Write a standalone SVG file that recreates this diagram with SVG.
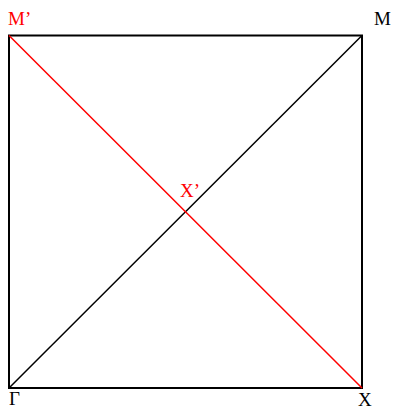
<svg xmlns="http://www.w3.org/2000/svg" width="394" height="410" viewBox="0 0 394 410">
<style>
.t{font-family:"Liberation Serif","Times New Roman",serif;font-size:19px}
.r{fill:#ff0000}
.k{fill:#000}
</style>
<rect width="394" height="410" fill="#fff"/>
<g id="connectors">
<rect x="9" y="35.5" width="353" height="352.5" fill="none" stroke="#000" stroke-width="2"/>
<line x1="9" y1="388" x2="362" y2="35.5" stroke="#000" stroke-width="1.5"/>
<line x1="9" y1="35.5" x2="362" y2="388" stroke="#ff0000" stroke-width="1.5"/>
</g>
<g id="M_prime"><text class="t r" x="8" y="25">M’</text></g>
<g id="M"><text class="t k" x="374" y="25">M</text></g>
<g id="X_prime"><text class="t r" x="180" y="197">X’</text></g>
<g id="Gamma"><text class="t k" x="9" y="405">Γ</text></g>
<g id="X"><text class="t k" x="358" y="406">X</text></g>
</svg>
